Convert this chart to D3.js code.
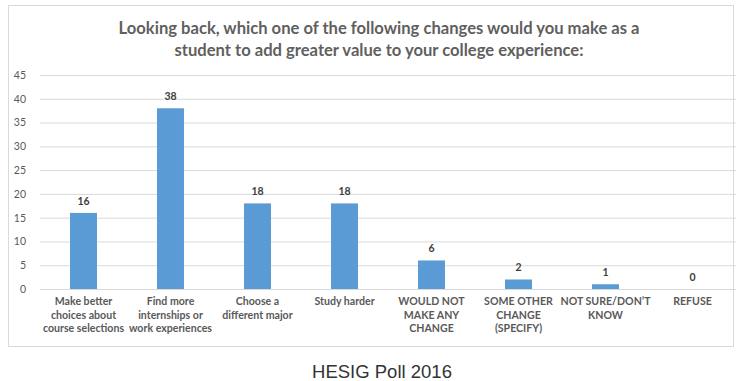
<!DOCTYPE html>
<html>
<head>
<meta charset="utf-8">
<script src="https://cdn.jsdelivr.net/npm/d3@7"></script>
<style>
  html, body { margin: 0; padding: 0; background: #fff; }
  svg { display: block; }
</style>
</head>
<body>
<svg id="chart" width="741" height="381"></svg>
<script>
// Survey answers and counts
const categories = [
  ["Make better", "choices about", "course selections"],
  ["Find more", "internships or", "work experiences"],
  ["Choose a", "different major"],
  ["Study harder"],
  ["WOULD NOT", "MAKE ANY", "CHANGE"],
  ["SOME OTHER", "CHANGE", "(SPECIFY)"],
  ["NOT SURE/DON\u2019T", "KNOW"],
  ["REFUSE"]
];
const values = [16, 38, 18, 18, 6, 2, 1, 0];
const yTicks = [0, 5, 10, 15, 20, 25, 30, 35, 40, 45];
const titleLines = [
  "Looking back, which one of the following changes would you make as a",
  "student to add greater value to your college experience:"
];
const caption = "HESIG Poll 2016";

const svg = d3.select("#chart");
const plot = { left: 40, right: 736, top: 75, bottom: 289 };

// chart frame
svg.append("rect")
  .attr("x", 8.5).attr("y", 5.5)
  .attr("width", 725).attr("height", 341)
  .attr("fill", "#fff")
  .attr("stroke", "#d9d9d9").attr("stroke-width", 1);

// title
svg.append("g").selectAll("text")
  .data(titleLines).join("text")
  .attr("x", 379)
  .attr("y", (d, i) => 34 + i * 22)
  .attr("text-anchor", "middle")
  .attr("font-family", "Lato, 'Open Sans', sans-serif")
  .attr("font-weight", "bold")
  .attr("font-size", 16.6)
  .attr("fill", "#5f5f5f")
  .text(d => d);

const x = d3.scaleBand()
  .domain(d3.range(categories.length))
  .range([plot.left, plot.right])
  .paddingInner(0.69)
  .paddingOuter(0.345);

const y = d3.scaleLinear()
  .domain([0, 45])
  .range([plot.bottom, plot.top]);

// gridlines + y labels
const yAxis = d3.axisLeft(y)
  .tickValues(yTicks)
  .tickSize(-(plot.right - plot.left))
  .tickPadding(14);

const gy = svg.append("g")
  .attr("transform", `translate(${plot.left},0)`)
  .call(yAxis);
gy.select(".domain").remove();
gy.selectAll(".tick line").attr("stroke", "#d9d9d9");
gy.selectAll(".tick text")
  .attr("fill", "#595959")
  .attr("font-family", "Lato, sans-serif")
  .attr("font-size", 10.5);

// bars
svg.append("g").selectAll("rect")
  .data(values).join("rect")
  .attr("x", (d, i) => x(i))
  .attr("y", d => y(d))
  .attr("width", x.bandwidth())
  .attr("height", d => y(0) - y(d))
  .attr("fill", "#5b9bd5");

// value labels
svg.append("g").selectAll("text")
  .data(values).join("text")
  .attr("x", (d, i) => x(i) + x.bandwidth() / 2)
  .attr("y", d => y(d) - 8)
  .attr("text-anchor", "middle")
  .attr("font-family", "Lato, sans-serif")
  .attr("font-weight", "bold")
  .attr("font-size", 10.5)
  .attr("fill", "#404040")
  .text(d => d);

// category labels
const cat = svg.append("g").selectAll("text")
  .data(categories).join("text")
  .attr("x", (d, i) => x(i) + x.bandwidth() / 2)
  .attr("y", 305)
  .attr("text-anchor", "middle")
  .attr("font-family", "Lato, sans-serif")
  .attr("font-weight", "bold")
  .attr("font-size", 10.6)
  .attr("fill", "#595959");
cat.selectAll("tspan")
  .data(d => d).join("tspan")
  .attr("x", function () { return d3.select(this.parentNode).attr("x"); })
  .attr("dy", (d, i) => i === 0 ? 0 : 13.5)
  .text(d => d);

// caption
svg.append("text")
  .attr("x", 382)
  .attr("y", 378)
  .attr("text-anchor", "middle")
  .attr("font-family", "'Liberation Sans', Arial, sans-serif")
  .attr("font-size", 18.5)
  .attr("fill", "#333")
  .text(caption);
</script>
</body>
</html>
